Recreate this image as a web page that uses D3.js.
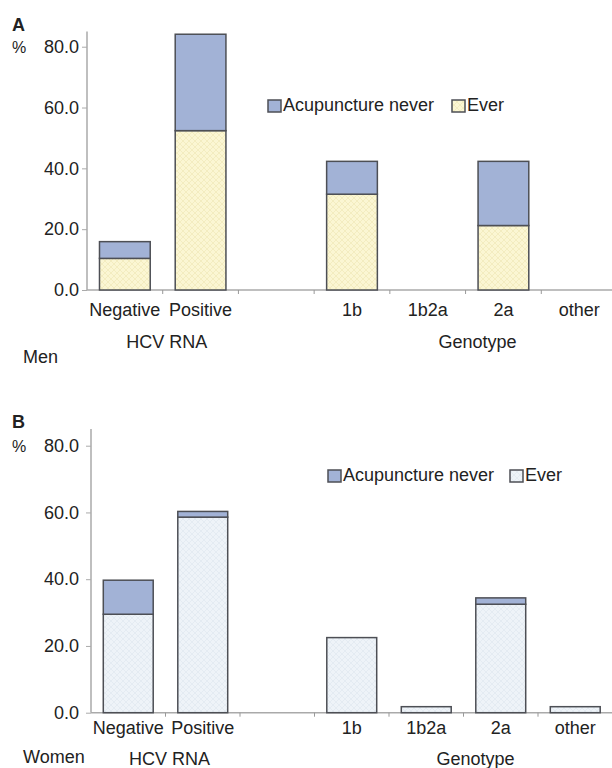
<!DOCTYPE html>
<html>
<head>
<meta charset="utf-8">
<script src="https://cdn.jsdelivr.net/npm/d3@7"></script>
<style>
  body { margin: 0; background: #fff; }
  svg text { font-family: "Liberation Sans", Arial, sans-serif; fill: #222; }
</style>
</head>
<body>
<svg id="chart" width="612" height="768"></svg>
<script>
// categories along the x axis (one empty slot between the two groups)
const categories = ["Negative", "Positive", "", "1b", "1b2a", "2a", "other"];
const seriesKeys = ["ever", "never"];
const legendLabels = ["Acupuncture never", "Ever"];
const yTicks = [0, 20, 40, 60, 80];

// Men (panel A), % values
const menEver  = [10.4, 52.4, 0, 31.5, 0, 21.2, 0];
const menNever = [5.5, 31.7, 0, 10.8, 0, 21.1, 0];

// Women (panel B)
const womenEver  = [29.5, 58.6, 0, 22.5, 1.8, 32.5, 1.8];
const womenNever = [10.2, 1.7, 0, 0, 0, 1.9, 0];

const svg = d3.select("#chart");
const defs = svg.append("defs");

function hatch(id, bg, line) {
  const p = defs.append("pattern")
    .attr("id", id)
    .attr("patternUnits", "userSpaceOnUse")
    .attr("width", 6).attr("height", 6);
  p.append("rect").attr("width", 6).attr("height", 6).attr("fill", bg);
  p.append("path")
    .attr("d", "M0,0 L6,6 M6,0 L0,6")
    .attr("stroke", line).attr("stroke-width", 0.6).attr("fill", "none");
}
hatch("everA", "#fbf6d3", "#efe6b4");
hatch("everB", "#eef3f8", "#dde6ef");

const neverColor = "#a2b2d6";
const edge = "#4d4f55";

function drawPanel(cfg) {
  const g = svg.append("g");

  const x = d3.scaleBand()
    .domain(categories)
    .range([cfg.left, cfg.right])
    .paddingInner(0.33)
    .paddingOuter(0.165);
  const y = d3.scaleLinear()
    .domain([0, 85])
    .range([cfg.bottom, cfg.top]);

  const rows = categories.map((c, i) => ({cat: c, ever: cfg.ever[i], never: cfg.never[i]}));
  const stacked = d3.stack().keys(seriesKeys)(rows);

  // axes
  const yAxis = d3.axisLeft(y)
    .tickValues(yTicks)
    .tickFormat(d3.format(".1f"))
    .tickSize(5)
    .tickPadding(cfg.tickPad);
  const ya = g.append("g")
    .attr("transform", `translate(${cfg.left},0)`)
    .call(yAxis);
  ya.select(".domain").attr("stroke", "#aaa").attr("stroke-width", 1.5).attr("d", `M0,${cfg.bottom}V${cfg.top}`);
  ya.selectAll(".tick line").attr("stroke", "#aaa");
  ya.selectAll(".tick text").style("font-size", "18px").attr("fill", "#222");

  const step = x.step();
  const boundaries = categories.map(c => x(c) - step * 0.165);
  g.append("line")
    .attr("x1", cfg.left).attr("x2", 612)
    .attr("y1", cfg.bottom).attr("y2", cfg.bottom)
    .attr("stroke", "#aaa").attr("stroke-width", 1.5);
  g.selectAll(".xtick")
    .data(boundaries.slice(1))
    .enter().append("line")
    .attr("x1", d => d).attr("x2", d => d)
    .attr("y1", cfg.bottom).attr("y2", cfg.bottom + 4)
    .attr("stroke", "#999");

  g.selectAll(".xlab")
    .data(categories)
    .enter().append("text")
    .attr("x", d => x(d) + x.bandwidth() / 2)
    .attr("y", cfg.bottom + cfg.labDy)
    .attr("text-anchor", "middle")
    .style("font-size", "18px")
    .text(d => d);

  // bars
  stacked.forEach(layer => {
    g.selectAll(".bar-" + layer.key)
      .data(layer.filter(d => d[1] - d[0] > 0))
      .enter().append("rect")
      .attr("x", d => x(d.data.cat))
      .attr("width", x.bandwidth())
      .attr("y", d => y(d[1]))
      .attr("height", d => y(d[0]) - y(d[1]))
      .attr("fill", layer.key == "ever" ? `url(#${cfg.pattern})` : neverColor)
      .attr("stroke", edge)
      .attr("stroke-width", 1.5);
  });

  // panel letter and unit
  g.append("text").attr("x", 12).attr("y", cfg.top - 1)
    .style("font-size", "18px").style("font-weight", "bold").text(cfg.letter);
  g.append("text").attr("x", 12).attr("y", y(80) + 6)
    .style("font-size", "16px").text("%");

  // group labels
  g.append("text")
    .attr("x", boundaries[1] + 4).attr("y", cfg.bottom + cfg.groupDy)
    .attr("text-anchor", "middle").style("font-size", "18px").text("HCV RNA");
  g.append("text")
    .attr("x", boundaries[5] + 12).attr("y", cfg.bottom + cfg.groupDy)
    .attr("text-anchor", "middle").style("font-size", "18px").text("Genotype");
  g.append("text")
    .attr("x", 23).attr("y", cfg.bottom + cfg.sexDy)
    .style("font-size", "18px").text(cfg.sex);

  // legend
  const lg = g.append("g").attr("transform", `translate(${cfg.legX},${cfg.legY})`);
  const legFills = [neverColor, `url(#${cfg.pattern})`];
  const legOffsets = [0, cfg.legGap];
  legendLabels.forEach((lab, i) => {
    lg.append("rect")
      .attr("x", legOffsets[i]).attr("y", -11)
      .attr("width", 13).attr("height", 12)
      .attr("fill", legFills[i]).attr("stroke", edge).attr("stroke-width", 1.5);
    lg.append("text")
      .attr("x", legOffsets[i] + 15).attr("y", 0)
      .style("font-size", "18px").text(lab);
  });
}

drawPanel({
  letter: "A", sex: "Men",
  left: 87, right: 617, top: 31.5, bottom: 290,
  labDy: 26, groupDy: 58, sexDy: 73, tickPad: 3,
  ever: menEver, never: menNever, pattern: "everA",
  legX: 268, legY: 111, legGap: 184
});

drawPanel({
  letter: "B", sex: "Women",
  left: 91, right: 612.5, top: 429, bottom: 712.7,
  labDy: 21, groupDy: 52, sexDy: 50, tickPad: 7,
  ever: womenEver, never: womenNever, pattern: "everB",
  legX: 328, legY: 481, legGap: 182
});
</script>
</body>
</html>
